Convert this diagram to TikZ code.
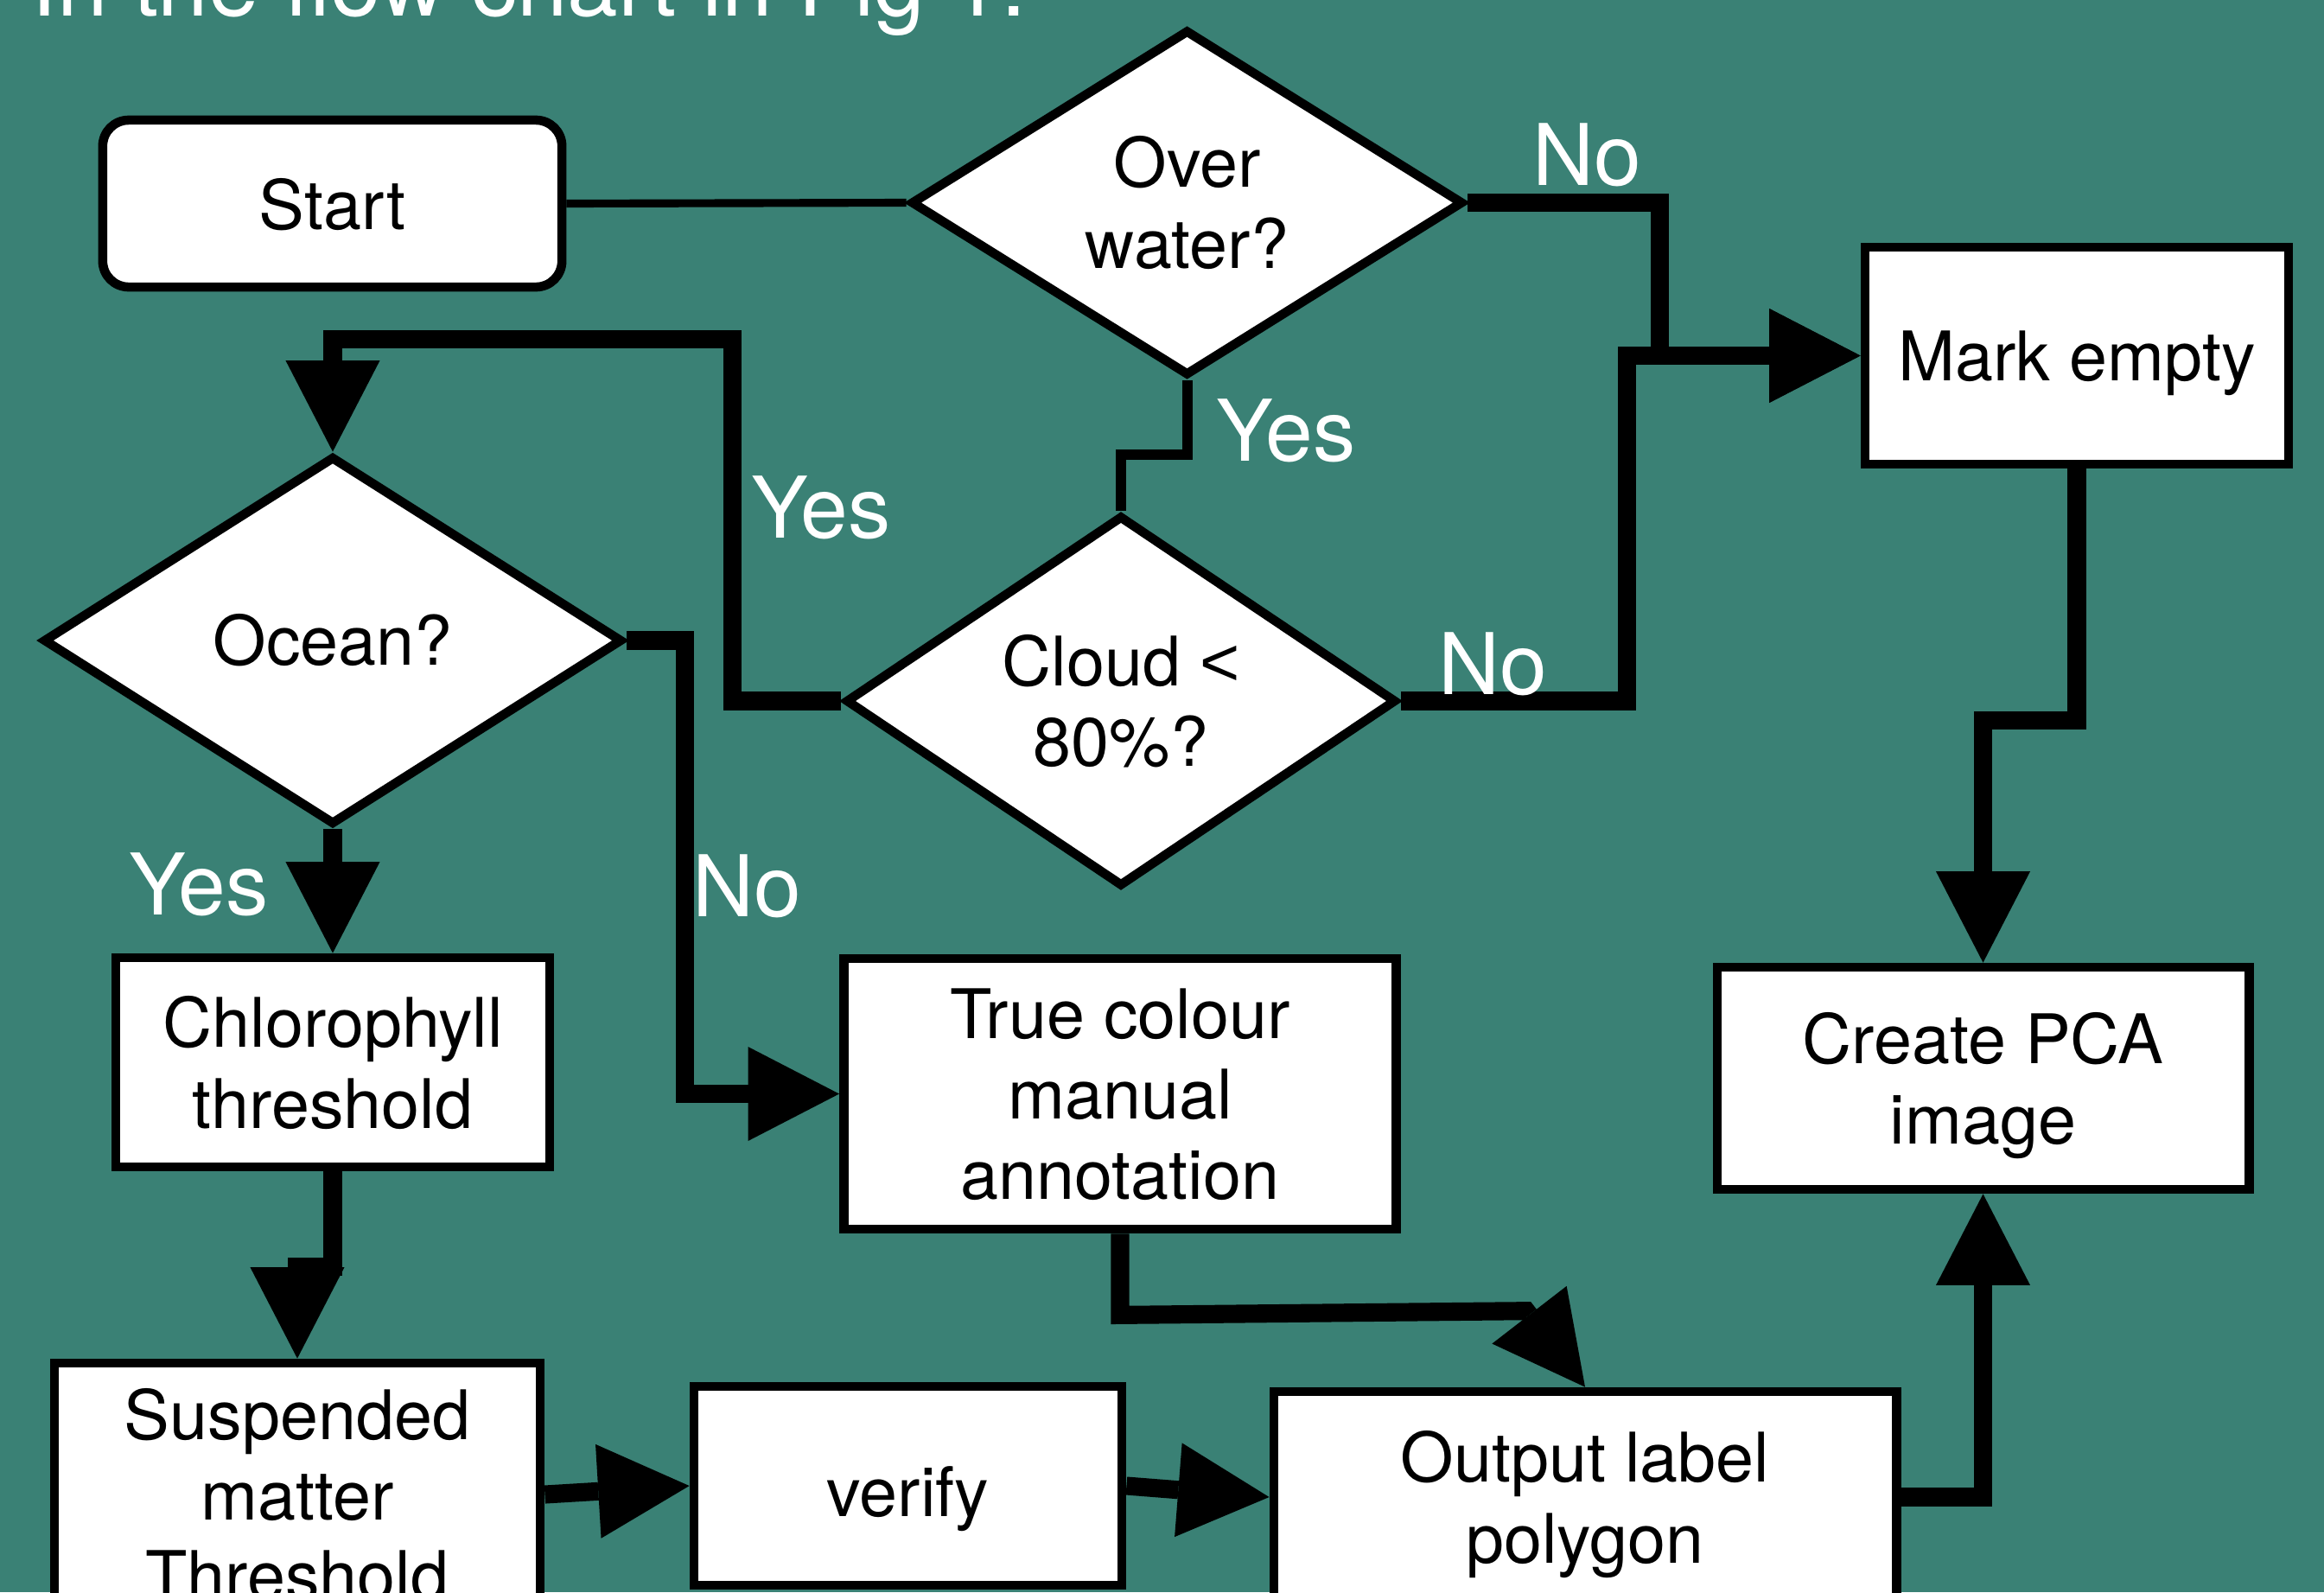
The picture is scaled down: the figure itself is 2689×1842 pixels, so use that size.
\documentclass[tikz,border=0pt]{standalone}
\usepackage{fontspec}
\setmainfont{TeX Gyre Heros}
\newfontfamily\arialfont{Liberation Sans}
\usetikzlibrary{arrows.meta,calc,positioning,shapes.geometric}
\definecolor{bgteal}{RGB}{58, 129, 117}
\newcommand{\boxfont}{\fontsize{22.5}{26.5}\selectfont}
\newcommand{\answerfont}{\fontsize{28}{32}\selectfont}
\newcommand{\toptextfont}{\fontsize{30}{36}\selectfont}
\tikzstyle{block} = [rectangle, draw, fill=white, line width=3pt,
  align=center, inner sep=0pt, text depth=0pt, font=\boxfont]
\tikzstyle{decision} = [diamond, draw, fill=white, line width=3pt,
  align=center, inner sep=0pt, font=\boxfont]
\tikzstyle{line} = [draw, line width=6pt, -{Triangle[length=30pt,width=31pt,line width=0pt]}]
\tikzstyle{answer} = [text=white, font=\answerfont, inner sep=0pt, anchor=base west]

\begin{document}
\begin{tikzpicture}[x=0.01cm, y=-0.01cm]

  \useasboundingbox (0,0) rectangle (2689,1842);
  \clip (0,0) rectangle (2689,1842);
  \fill[bgteal] (0,0) rectangle (2689,1842);

  \node [text=white, font=\toptextfont, inner sep=0pt, anchor=base west] at (36,18) (caption) {In the flow chart in Fig 1.};

  %%%%%%%%%%%%%%%%%%%%%%%%%%%%%%%%%%%%%%%%%%%%%%%%%%%%%%%%%%%%%%
  %                   DECISIONS                                %
  %%%%%%%%%%%%%%%%%%%%%%%%%%%%%%%%%%%%%%%%%%%%%%%%%%%%%%%%%%%%%%

  \node [block, rounded corners=0.3cm, minimum width=5.31cm, minimum height=1.93cm] at (384.5,235.5) (start) {Start};
  \node [decision, aspect=1.6, minimum width=6.39cm, minimum height=4.0cm] at (1373.5,234.5) (over) {Over\\water?};
  \node [decision, aspect=1.57, minimum width=6.7cm, minimum height=4.26cm] at (385,741) (ocean) {Ocean?};
  \node [decision, aspect=1.48, minimum width=6.37cm, minimum height=4.29cm] at (1297,811) (cloud) {Cloud {\arialfont<}\\80\%?};

  %%%%%%%%%%%%%%%%%%%%%%%%%%%%%%%%%%%%%%%%%%%%%%%%%%%%%%%%%%%%%%
  %                   PROCESSING STEPS                         %
  %%%%%%%%%%%%%%%%%%%%%%%%%%%%%%%%%%%%%%%%%%%%%%%%%%%%%%%%%%%%%%

  \node [block, minimum width=4.9cm, minimum height=2.51cm] at (2403,411.5) (mark) {Mark empty};
  \node [block, minimum width=5.02cm, minimum height=2.42cm] at (385,1229) (chl) {Chlorophyll\\threshold};
  \node [block, minimum width=6.39cm, minimum height=3.13cm] at (1296,1265.5) (tca) {True colour\\manual\\annotation};
  \node [block, minimum width=6.15cm, minimum height=2.57cm] at (2294.5,1247.5) (pca) {Create PCA\\image};
  \node [block, minimum width=5.62cm, minimum height=3.04cm] at (344,1729) (sus) {Suspended\\matter\\Threshold};
  \node [block, minimum width=4.95cm, minimum height=2.30cm, text height=20pt] at (1050.5,1719) (ver) {verify};
  \node [block, minimum width=7.2cm, minimum height=2.44cm] at (1834,1732) (out) {Output label\\polygon};

  %%%%%%%%%%%%%%%%%%%%%%%%%%%%%%%%%%%%%%%%%%%%%%%%%%%%%%%%%%%%%%
  %                   CONNECTORS                               %
  %%%%%%%%%%%%%%%%%%%%%%%%%%%%%%%%%%%%%%%%%%%%%%%%%%%%%%%%%%%%%%

  \draw[line width=2.6pt] (start.east) -- (over.west);
  \draw[line width=3.4pt] (over.south) -- ++(0,86) -| (cloud.north);
  \draw[line] (over.east) -| ($(mark.west)+(-232,0)$) -- (mark.west);
  \draw[line] (cloud.east) -| ($(mark.west)+(-270,0)$) -- (mark.west);
  \draw[line] (cloud.west) -- ++(-126,0) |- ($(ocean.north)+(0,-130)$) -- (ocean.north);
  \draw[line] (ocean.east) -- ++(67,0) |- (tca.west);
  \draw[line] (ocean.south) -- (chl.north);
  \draw[line] (chl.south) -- ++(0,110) -| (sus.north);
  \draw[line] (tca.south) -- ++(0,94) -- ($(out.north)+(-68,-88)$) -- (out.north);
  \draw[line] (mark.south) -- ++(0,291) -| (pca.north);
  \draw[line] (sus.east) -- (ver.west);
  \draw[line] (ver.east) -- (out.west);
  \draw[line] (out.east) -| (pca.south);

  \node [answer] at (1773,214) (no-over) {No};
  \node [answer] at (1407,533) (yes-over) {Yes};
  \node [answer] at (869,622) (yes-cloud) {Yes};
  \node [answer] at (1664,803) (no-cloud) {No};
  \node [answer] at (149,1058) (yes-ocean) {Yes};
  \node [answer] at (801,1060) (no-ocean) {No};

\end{tikzpicture}
\end{document}
